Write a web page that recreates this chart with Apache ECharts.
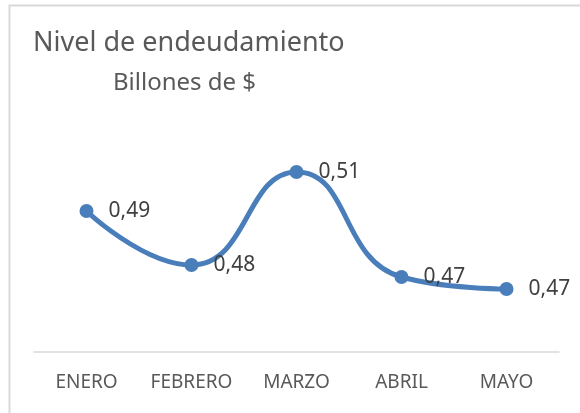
<!DOCTYPE html>
<html>
<head>
<meta charset="utf-8">
<script src="https://cdn.jsdelivr.net/npm/echarts@6/dist/echarts.min.js"></script>
<style>
  html, body { margin: 0; padding: 0; background: #fff; }
  #chart { width: 580px; height: 413px; }
</style>
</head>
<body>
<div id="chart"></div>
<script>
var meses = ['ENERO', 'FEBRERO', 'MARZO', 'ABRIL', 'MAYO']
var deuda = [0.494, 0.476, 0.507, 0.472, 0.468]

var myChart = echarts.init(document.getElementById('chart'))
var fuente = 'Noto Sans'

var option = {
  animation: false,
  title: [
    {
      text: 'Nivel de endeudamiento',
      left: 28,
      top: 25,
      textStyle: { fontFamily: fuente, fontSize: 27, fontWeight: 'normal', color: '#595959' }
    },
    {
      text: 'Billones de $',
      left: 108,
      top: 66,
      textStyle: { fontFamily: fuente, fontSize: 24, fontWeight: 'normal', color: '#595959' }
    }
  ],
  graphic: [{
    type: 'rect',
    shape: { x: 9.5, y: 5.5, width: 600, height: 440 },
    style: { fill: 'none', stroke: '#d9d9d9', lineWidth: 2 },
    silent: true
  }],
  grid: { left: 34, right: 21, top: 133, bottom: 61 },
  xAxis: {
    type: 'category',
    data: meses,
    boundaryGap: true,
    axisLine: { lineStyle: { color: '#d9d9d9', width: 1.5 } },
    axisTick: { show: false },
    axisLabel: { interval: 0, fontFamily: fuente, fontSize: 19, color: '#595959', margin: 21 }
  },
  yAxis: {
    type: 'value',
    min: 0.447,
    max: 0.52,
    show: false,
    splitLine: { show: false }
  },
  series: [{
    type: 'line',
    data: deuda,
    smooth: 0.5,
    symbol: 'circle',
    symbolSize: 14,
    lineStyle: { color: '#4a7ebb', width: 5 },
    itemStyle: { color: '#4a7ebb' },
    label: {
      show: true,
      position: 'right',
      distance: 15,
      fontFamily: fuente,
      fontSize: 21,
      color: '#404040',
      formatter: function (p) { return p.value.toFixed(2).replace('.', ',') }
    }
  }]
}

myChart.setOption(option)
</script>
</body>
</html>
